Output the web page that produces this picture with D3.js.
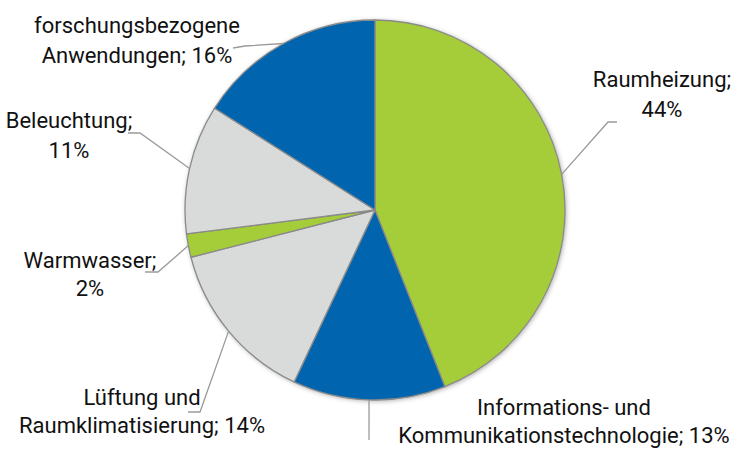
<!DOCTYPE html>
<html>
<head>
<meta charset="utf-8">
<script src="https://cdn.jsdelivr.net/npm/d3@7"></script>
<style>
  body { margin: 0; background: #fff; }
  svg text { font-family: Roboto, "Open Sans", sans-serif; font-size: 22px; fill: #111; }
</style>
</head>
<body>
<div id="chart"></div>
<script>
/* DATA */
const categories = ["Raumheizung", "Informations- und Kommunikationstechnologie", "Lüftung und Raumklimatisierung",
                    "Warmwasser", "Beleuchtung", "forschungsbezogene Anwendungen"];
const values = [44, 13, 14, 2, 11, 16];
const colors = ["#a5cd39", "#0065ae", "#d9dada", "#a5cd39", "#d9dada", "#0065ae"];

// label text lines (as printed)
const labelLines = [
  ["Raumheizung;", "44%"],
  ["Informations- und", "Kommunikationstechnologie; 13%"],
  ["Lüftung und", "Raumklimatisierung; 14%"],
  ["Warmwasser;", "2%"],
  ["Beleuchtung;", "11%"],
  ["forschungsbezogene", "Anwendungen; 16%"]
];

/* LABEL LAYOUT: text centre x, first baseline, line gap, leader elbow + end */
const labelLayout = [
  {x: 662, y: 87,  gap: 30, elbow: [608, 122], end: [617, 122]},
  {x: 564, y: 415, gap: 28, elbow: [369, 440], end: [369, 440]},
  {x: 142, y: 405, gap: 28, elbow: [200, 412], end: [188, 412]},
  {x: 90,  y: 268, gap: 28, elbow: [158, 272], end: [145, 272]},
  {x: 69,  y: 128, gap: 30, elbow: [140, 133], end: [128, 133]},
  {x: 137, y: 33,  gap: 30, elbow: [245, 46],  end: [233, 48]}
];

/* CONSTANTS */
const width = 735, height = 449;
const cx = 375, cy = 210, radius = 190;

const data = categories.map((c, i) => ({name: c, value: values[i], color: colors[i], lines: labelLines[i], layout: labelLayout[i]}));

const svg = d3.select("#chart").append("svg")
  .attr("width", width)
  .attr("height", height);

const defs = svg.append("defs");
const shadow = defs.append("filter").attr("id", "shadow")
  .attr("x", "-10%").attr("y", "-10%").attr("width", "120%").attr("height", "120%");
shadow.append("feDropShadow")
  .attr("dx", 1).attr("dy", 1).attr("stdDeviation", 2.5)
  .attr("flood-color", "#000").attr("flood-opacity", 0.35);

const pie = d3.pie().value(d => d.value).sort(null);
const arc = d3.arc().innerRadius(0).outerRadius(radius);
const arcs = pie(data);

const g = svg.append("g").attr("transform", `translate(${cx},${cy})`);

// shadow disc under the pie
g.append("circle")
  .attr("r", radius)
  .attr("fill", "#fff")
  .attr("filter", "url(#shadow)");

g.selectAll("path.slice")
  .data(arcs)
  .join("path")
    .attr("class", "slice")
    .attr("d", arc)
    .attr("fill", d => d.data.color)
    .attr("stroke", "#8a8a8a")
    .attr("stroke-width", 1.3)
    .attr("stroke-linejoin", "round");

// leader lines: from slice mid-angle on the rim to the label
svg.selectAll("polyline.leader")
  .data(arcs)
  .join("polyline")
    .attr("class", "leader")
    .attr("points", d => {
      const a = (d.startAngle + d.endAngle) / 2;
      const p0 = [cx + radius * Math.sin(a), cy - radius * Math.cos(a)];
      return [p0, d.data.layout.elbow, d.data.layout.end].map(p => p.join(",")).join(" ");
    })
    .attr("fill", "none")
    .attr("stroke", "#9a9a9a")
    .attr("stroke-width", 1.3);

const labels = svg.selectAll("text.label")
  .data(data)
  .join("text")
    .attr("class", "label")
    .attr("text-anchor", "middle");

labels.selectAll("tspan")
  .data(d => d.lines.map((t, i) => ({t, i, l: d.layout})))
  .join("tspan")
    .attr("x", d => d.l.x)
    .attr("y", d => d.l.y + d.i * d.l.gap)
    .text(d => d.t);
</script>
</body>
</html>
